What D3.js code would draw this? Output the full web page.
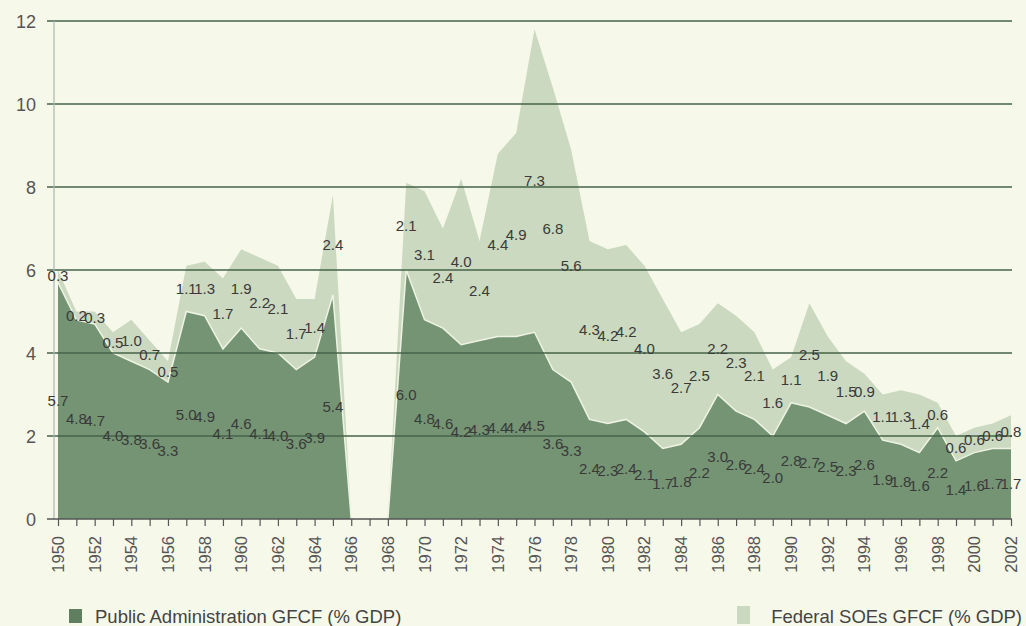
<!DOCTYPE html>
<html>
<head>
<meta charset="utf-8">
<script src="https://cdn.jsdelivr.net/npm/d3@7"></script>
<style>
  html, body { margin: 0; padding: 0; background: #f6f8e9; }
  svg { display: block; font-family: "Liberation Sans", Arial, sans-serif; }
</style>
</head>
<body>
<svg id="chart" width="1026" height="626"></svg>
<script>
// ---- data ----
const years = d3.range(1950, 2003);
const publicAdmin = [
  5.7, 4.8, 4.7, 4.0, 3.8, 3.6, 3.3, 5.0, 4.9, 4.1,
  4.6, 4.1, 4.0, 3.6, 3.9, 5.4, 0, 0, 0, 6.0,
  4.8, 4.6, 4.2, 4.3, 4.4, 4.4, 4.5, 3.6, 3.3, 2.4,
  2.3, 2.4, 2.1, 1.7, 1.8, 2.2, 3.0, 2.6, 2.4, 2.0,
  2.8, 2.7, 2.5, 2.3, 2.6, 1.9, 1.8, 1.6, 2.2, 1.4,
  1.6, 1.7, 1.7
];
const federalSOEs = [
  0.3, 0.2, 0.3, 0.5, 1.0, 0.7, 0.5, 1.1, 1.3, 1.7,
  1.9, 2.2, 2.1, 1.7, 1.4, 2.4, 0, 0, 0, 2.1,
  3.1, 2.4, 4.0, 2.4, 4.4, 4.9, 7.3, 6.8, 5.6, 4.3,
  4.2, 4.2, 4.0, 3.6, 2.7, 2.5, 2.2, 2.3, 2.1, 1.6,
  1.1, 2.5, 1.9, 1.5, 0.9, 1.1, 1.3, 1.4, 0.6, 0.6,
  0.6, 0.6, 0.8
];
const yTicks = [0, 2, 4, 6, 8, 10, 12];
const xTickLabels = d3.range(1950, 2003, 2);
const seriesNames = ["Public Administration GFCF (% GDP)", "Federal SOEs GFCF (% GDP)"];

// ---- layout ----
const svg = d3.select("#chart");
const colDark = "#749474";
const colLight = "#cbd9c0";
const colGrid = "#46634a";
const colText = "#3a3a3a";

const x = d3.scaleLinear().domain([1950, 2002]).range([58, 1011]);
const y = d3.scaleLinear().domain([0, 12]).range([519, 21]);

const rows = years.map((yr, i) => ({ year: yr, pa: publicAdmin[i], soe: federalSOEs[i] }));
const stack = d3.stack().keys(["pa", "soe"])(rows);

const area = d3.area()
  .x(d => x(d.data.year))
  .y0(d => y(d[0]))
  .y1(d => y(d[1]));

svg.append("path").datum(stack[1]).attr("d", area).attr("fill", colLight);
svg.append("path").datum(stack[0]).attr("d", area).attr("fill", colDark);
svg.append("path").datum(stack[0])
  .attr("d", d3.line().x(d => x(d.data.year)).y(d => y(d[1])))
  .attr("fill", "none").attr("stroke", "#eef3e3").attr("stroke-width", 1.5);

// gridlines
svg.append("g").selectAll("line").data(yTicks.filter(t => t > 0)).join("line")
  .attr("x1", 47).attr("x2", 1012)
  .attr("y1", d => y(d)).attr("y2", d => y(d))
  .attr("stroke", colGrid).attr("stroke-width", 1.6);

// left axis line
svg.append("line").attr("x1", 54).attr("x2", 54).attr("y1", y(12)).attr("y2", y(0))
  .attr("stroke", "#a9b8b4").attr("stroke-width", 1.2);

// y-axis labels
svg.append("g").selectAll("text").data(yTicks).join("text")
  .attr("x", 36).attr("y", d => y(d) + 7)
  .attr("text-anchor", "end").attr("font-size", 18).attr("fill", "#555")
  .text(d => d);

// x axis
const xAxis = d3.axisBottom(x).tickValues(years).tickSize(7).tickFormat("");
const gx = svg.append("g").attr("transform", `translate(0,${y(0)})`).call(xAxis);
gx.select(".domain").attr("stroke", "#555").attr("stroke-width", 1.5)
  .attr("d", `M47,0H1012`);
gx.selectAll(".tick line").attr("stroke", "#555").attr("stroke-width", 1.2);

svg.append("g").selectAll("text").data(xTickLabels).join("text")
  .attr("transform", d => `translate(${x(d) + 6},536) rotate(-90)`)
  .attr("text-anchor", "end").attr("font-size", 16.5).attr("fill", "#555")
  .text(d => d);

// value labels
svg.append("g").selectAll("text").data(rows.filter(r => r.pa > 0)).join("text")
  .attr("x", d => x(d.year)).attr("y", d => y(d.pa / 2) + 5)
  .attr("text-anchor", "middle").attr("font-size", 15).attr("fill", colText)
  .text(d => d.pa.toFixed(1));
svg.append("g").selectAll("text").data(rows.filter(r => r.soe > 0)).join("text")
  .attr("x", d => x(d.year)).attr("y", d => y(d.pa + d.soe / 2) + 5)
  .attr("text-anchor", "middle").attr("font-size", 15).attr("fill", colText)
  .text(d => d.soe.toFixed(1));

// legend
svg.append("rect").attr("x", 69).attr("y", 609).attr("width", 13).attr("height", 14).attr("fill", "#5f7f60");
svg.append("text").attr("x", 95).attr("y", 623).attr("font-size", 18.5).attr("fill", "#444").text(seriesNames[0]);
svg.append("rect").attr("x", 737).attr("y", 606).attr("width", 13).attr("height", 18).attr("fill", colLight);
svg.append("text").attr("x", 1022).attr("y", 623).attr("text-anchor", "end").attr("font-size", 18.5).attr("fill", "#444").text(seriesNames[1]);
</script>
</body>
</html>
